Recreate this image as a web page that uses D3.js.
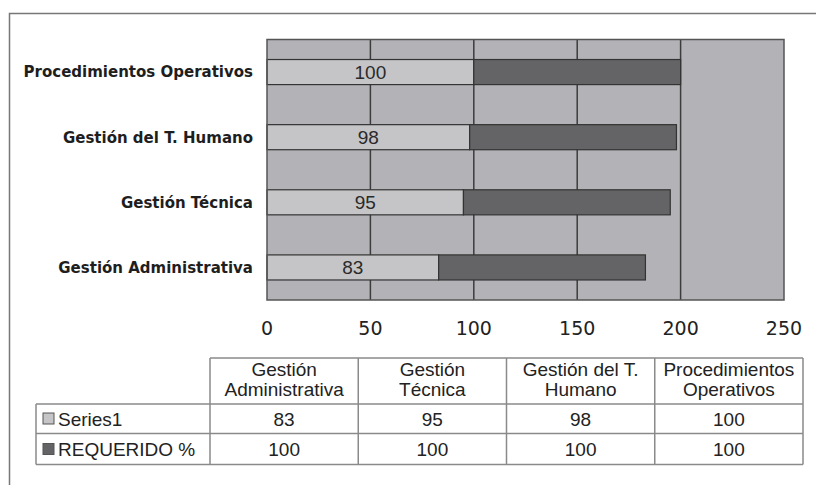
<!DOCTYPE html>
<html>
<head>
<meta charset="utf-8">
<script src="https://d3js.org/d3.v7.min.js"></script>
<style>
body { margin: 0; background: #fff; }
.tick-label { font-family: "DejaVu Sans", Verdana, sans-serif; font-size: 19px; fill: #222; }
.cat-label { font-family: "DejaVu Sans", Verdana, sans-serif; font-weight: bold; font-size: 15px; fill: #1e1e1e; }
.tbl { font-family: "Liberation Sans", Arial, sans-serif; font-size: 19px; fill: #222; }
.bar-label { font-family: "Liberation Sans", Arial, sans-serif; font-size: 19px; fill: #2a2a2a; }
</style>
</head>
<body>
<svg width="816" height="485"></svg>
<script>
// data
var categories = ["Gestión Administrativa", "Gestión Técnica", "Gestión del T. Humano", "Procedimientos Operativos"];
var headerLines = [["Gestión", "Administrativa"], ["Gestión", "Técnica"], ["Gestión del T.", "Humano"], ["Procedimientos", "Operativos"]];
var seriesNames = ["Series1", "REQUERIDO %"];
var series1 = [83, 95, 98, 100];
var requerido = [100, 100, 100, 100];
var tickValues = [0, 50, 100, 150, 200, 250];

var colors = ["#c5c5c7", "#646466"];

var svg = d3.select("svg");

// outer chart frame (cut off at right and bottom)
svg.append("path")
    .attr("d", "M9.5,485 L9.5,13.5 L816,13.5")
    .attr("fill", "none")
    .attr("stroke", "#777")
    .attr("stroke-width", 1.5);

var plot = {left: 267, right: 784, top: 39.5, bottom: 300};

var x = d3.scaleLinear().domain([0, 250]).range([plot.left, plot.right]);
var y = d3.scaleBand()
    .domain(categories.slice().reverse())
    .range([plot.top, plot.bottom])
    .paddingInner(0.615)
    .paddingOuter(0.3075);

// plot background
svg.append("rect")
    .attr("x", plot.left).attr("y", plot.top)
    .attr("width", plot.right - plot.left).attr("height", plot.bottom - plot.top)
    .attr("fill", "#b3b3b7");

// vertical gridlines
svg.append("g").selectAll("line")
    .data(tickValues.slice(1, -1))
    .enter().append("line")
    .attr("x1", function(d) { return x(d); })
    .attr("x2", function(d) { return x(d); })
    .attr("y1", plot.top).attr("y2", plot.bottom)
    .attr("stroke", "#3c3c3c").attr("stroke-width", 1.5);

// stacked bars
var rows = categories.map(function(c, i) {
  return {cat: c, s1: series1[i], req: requerido[i]};
});
var stack = d3.stack().keys(["s1", "req"]);
var layers = stack(rows);

svg.append("g").selectAll("g")
    .data(layers)
    .enter().append("g")
    .attr("fill", function(d, i) { return colors[i]; })
  .selectAll("rect")
    .data(function(d) { return d; })
    .enter().append("rect")
    .attr("x", function(d) { return x(d[0]); })
    .attr("y", function(d) { return y(d.data.cat); })
    .attr("width", function(d) { return x(d[1]) - x(d[0]); })
    .attr("height", y.bandwidth())
    .attr("stroke", "#333")
    .attr("stroke-width", 1.2);

// value labels on Series1
svg.append("g").selectAll("text")
    .data(layers[0])
    .enter().append("text")
    .attr("class", "bar-label")
    .attr("x", function(d) { return (x(d[0]) + x(d[1])) / 2; })
    .attr("y", function(d) { return y(d.data.cat) + y.bandwidth() / 2; })
    .attr("dy", "0.36em")
    .attr("text-anchor", "middle")
    .text(function(d) { return d.data.s1; });

// plot border
svg.append("rect")
    .attr("x", plot.left).attr("y", plot.top)
    .attr("width", plot.right - plot.left).attr("height", plot.bottom - plot.top)
    .attr("fill", "none")
    .attr("stroke", "#555").attr("stroke-width", 1.5);

// category labels
svg.append("g").selectAll("text")
    .data(categories)
    .enter().append("text")
    .attr("class", "cat-label")
    .attr("x", 253)
    .attr("y", function(d) { return y(d) + y.bandwidth() / 2; })
    .attr("dy", "0.36em")
    .attr("text-anchor", "end")
    .text(function(d) { return d; });

// x axis tick labels
svg.append("g").selectAll("text")
    .data(tickValues)
    .enter().append("text")
    .attr("class", "tick-label")
    .attr("x", function(d) { return x(d); })
    .attr("y", 335)
    .attr("text-anchor", "middle")
    .text(function(d) { return d; });

// data table
var col = d3.scaleBand().domain(categories).range([210, 803]);
var tbl = {legendLeft: 36, top: 358, headBottom: 404, row1: 433.5, bottom: 464.5};
var lineColor = "#8a8a8a";
var t = svg.append("g");

function hline(x1, x2, yy) {
  t.append("line").attr("x1", x1).attr("x2", x2).attr("y1", yy).attr("y2", yy)
    .attr("stroke", lineColor).attr("stroke-width", 1.5);
}
function vline(xx, y1, y2) {
  t.append("line").attr("x1", xx).attr("x2", xx).attr("y1", y1).attr("y2", y2)
    .attr("stroke", lineColor).attr("stroke-width", 1.5);
}
hline(210, 803, tbl.top);
hline(tbl.legendLeft, 803, tbl.headBottom);
hline(tbl.legendLeft, 803, tbl.row1);
hline(tbl.legendLeft, 803, tbl.bottom);
vline(tbl.legendLeft, tbl.headBottom, tbl.bottom);
categories.forEach(function(c) { vline(col(c), tbl.top, tbl.bottom); });
vline(803, tbl.top, tbl.bottom);

// header text
categories.forEach(function(c, i) {
  var cx = col(c) + col.bandwidth() / 2;
  headerLines[i].forEach(function(line, j) {
    t.append("text").attr("class", "tbl")
      .attr("x", cx).attr("y", 376 + j * 20)
      .attr("text-anchor", "middle")
      .text(line);
  });
});

// value rows
var rowData = [series1, requerido];
var rowBase = [425.5, 456];
rowData.forEach(function(vals, r) {
  // legend key
  t.append("rect")
    .attr("x", 43).attr("y", rowBase[r] - 12.5)
    .attr("width", 11).attr("height", 11)
    .attr("fill", colors[r]).attr("stroke", "#555").attr("stroke-width", 1);
  t.append("text").attr("class", "tbl")
    .attr("x", 58).attr("y", rowBase[r])
    .text(seriesNames[r]);
  vals.forEach(function(v, i) {
    t.append("text").attr("class", "tbl")
      .attr("x", col(categories[i]) + col.bandwidth() / 2)
      .attr("y", rowBase[r])
      .attr("text-anchor", "middle")
      .text(v);
  });
});
</script>
</body>
</html>
